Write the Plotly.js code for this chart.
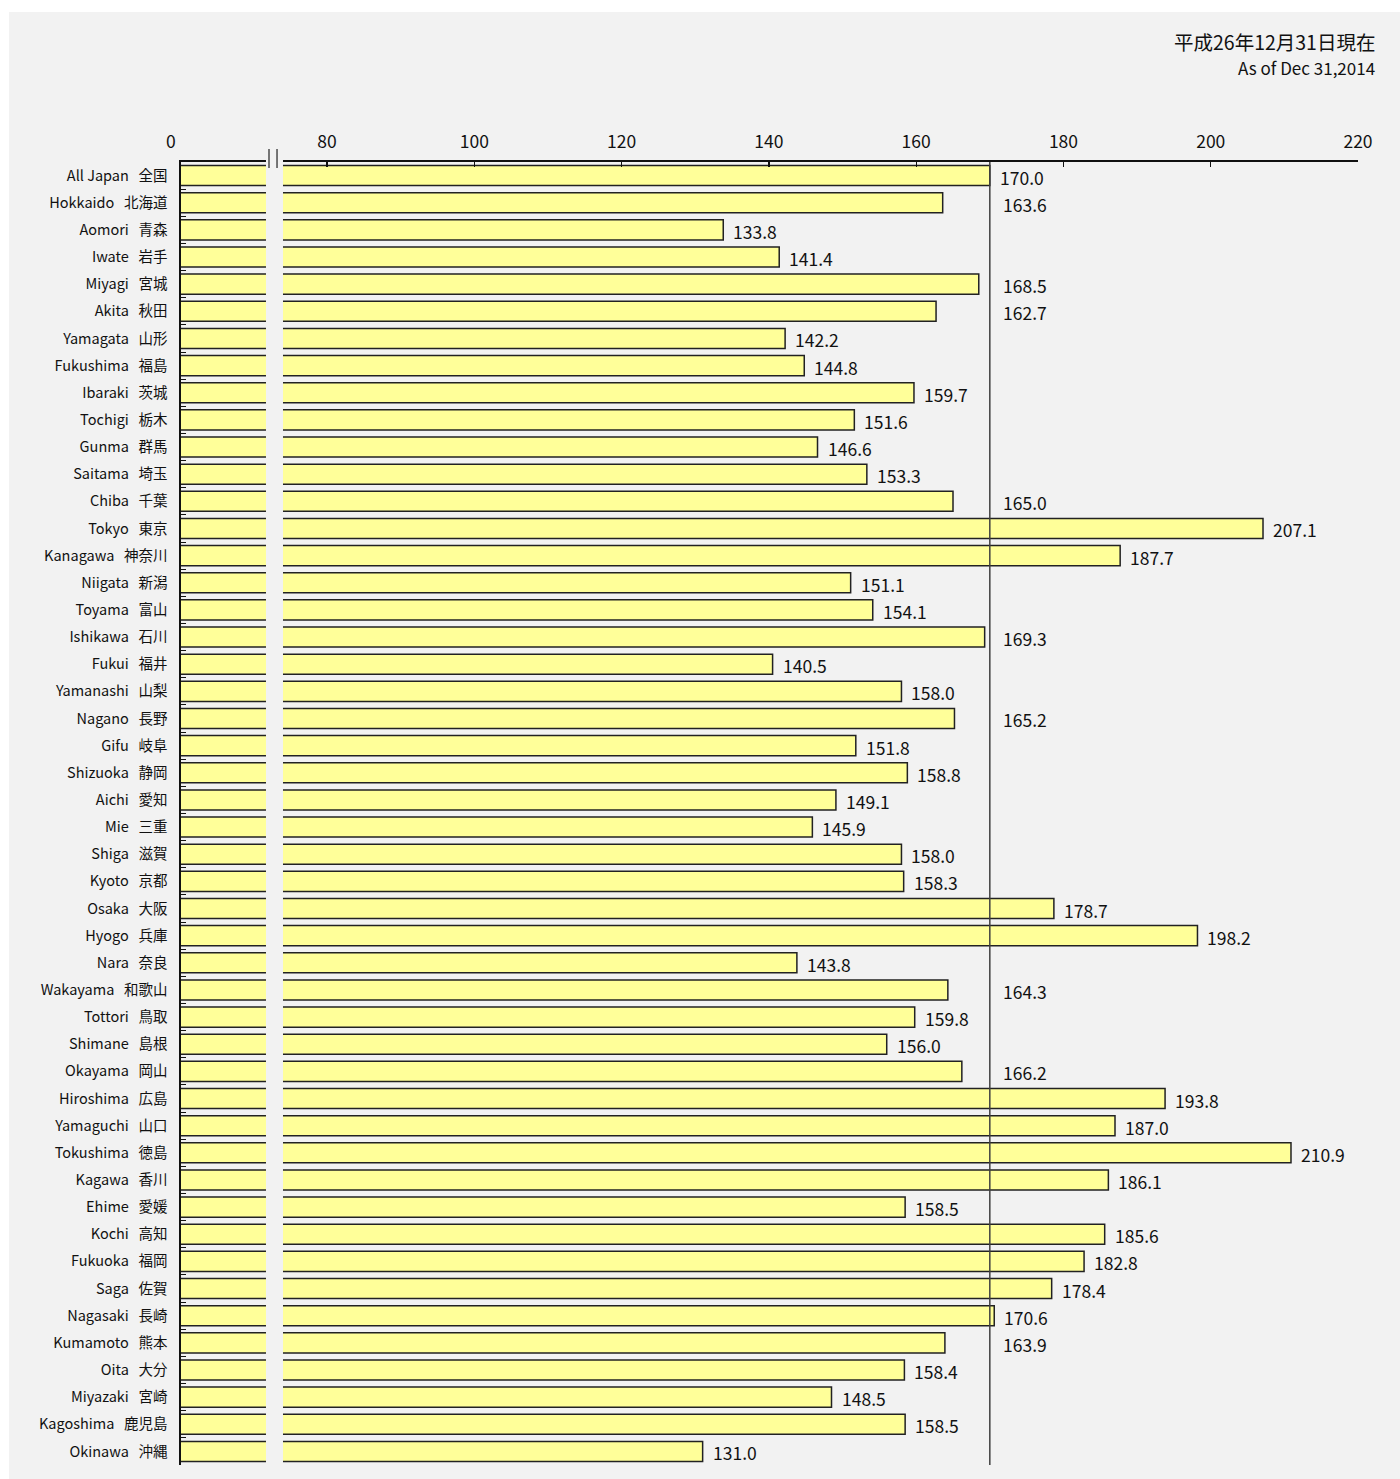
<!DOCTYPE html>
<html>
<head>
<meta charset="utf-8">
<script src="https://cdn.plot.ly/plotly-3.0.1.min.js"></script>
<style>
html,body{margin:0;padding:0;background:#ffffff;}
#chart{position:absolute;left:9px;top:12px;width:1391px;height:1467px;}
</style>
</head>
<body>
<div id="chart"></div>
<script>
const namesEn = ['All Japan','Hokkaido','Aomori','Iwate','Miyagi','Akita','Yamagata','Fukushima','Ibaraki','Tochigi','Gunma','Saitama','Chiba','Tokyo','Kanagawa','Niigata','Toyama','Ishikawa','Fukui','Yamanashi','Nagano','Gifu','Shizuoka','Aichi','Mie','Shiga','Kyoto','Osaka','Hyogo','Nara','Wakayama','Tottori','Shimane','Okayama','Hiroshima','Yamaguchi','Tokushima','Kagawa','Ehime','Kochi','Fukuoka','Saga','Nagasaki','Kumamoto','Oita','Miyazaki','Kagoshima','Okinawa'];
const namesJa = ['全国','北海道','青森','岩手','宮城','秋田','山形','福島','茨城','栃木','群馬','埼玉','千葉','東京','神奈川','新潟','富山','石川','福井','山梨','長野','岐阜','静岡','愛知','三重','滋賀','京都','大阪','兵庫','奈良','和歌山','鳥取','島根','岡山','広島','山口','徳島','香川','愛媛','高知','福岡','佐賀','長崎','熊本','大分','宮崎','鹿児島','沖縄'];
const values = [170.0,163.6,133.8,141.4,168.5,162.7,142.2,144.8,159.7,151.6,146.6,153.3,165.0,207.1,187.7,151.1,154.1,169.3,140.5,158.0,165.2,151.8,158.8,149.1,145.9,158.0,158.3,178.7,198.2,143.8,164.3,159.8,156.0,166.2,193.8,187.0,210.9,186.1,158.5,185.6,182.8,178.4,170.6,163.9,158.4,148.5,158.5,131.0];
const xTickVals = [80,100,120,140,160,180,200,220];
const xTickText = ['80','100','120','140','160','180','200','220'];
const axisZeroLabel = '0';
const dateJa = '平成26年12月31日現在';
const dateEn = 'As of Dec 31,2014';

const cats = namesEn.map((e,i)=> e + '\u00a0\u00a0\u00a0' + namesJa[i]);
const allJapan = values[0];
const xMin = 60.16, xMax = 220;
const FONT = '"Noto Sans CJK JP", "Noto Sans", sans-serif';

const trace = {
  type:'bar', orientation:'h',
  x: values, y: cats,
  width: 0.74,
  marker:{color:'#FFFF99', line:{color:'#222222', width:1.5}},
  hoverinfo:'none'
};

const annotations = [];
values.forEach((v,i)=>{
  const shifted = (v >= 160.5 && v < allJapan);
  annotations.push({
    x: shifted ? allJapan : v, y: cats[i], xref:'x', yref:'y',
    text: v.toFixed(1), showarrow:false, xanchor:'left', yanchor:'middle',
    xshift: shifted ? 11 : 8, yshift: -1.5,
    font:{family:FONT, size:17.5, color:'#111111'}
  });
});
annotations.push({x:-0.0088, y:1.0168, xref:'paper', yref:'paper', text:axisZeroLabel, showarrow:false,
  xanchor:'center', yanchor:'middle', font:{family:FONT, size:17.5, color:'#111111'}});
annotations.push({x:1.0161, y:1.0921, xref:'paper', yref:'paper', text:dateJa, showarrow:false,
  xanchor:'right', yanchor:'middle', font:{family:FONT, size:19.5, color:'#111111'}});
annotations.push({x:1.0161, y:1.0729, xref:'paper', yref:'paper', text:dateEn, showarrow:false,
  xanchor:'right', yanchor:'middle', font:{family:FONT, size:17, color:'#111111'}});

const shapes = [
  {type:'rect', xref:'x', yref:'paper', x0:71.70, x1:74.01, y0:-0.01, y1:1.003, fillcolor:'#F2F2F2', line:{width:0}, layer:'above'},
  {type:'line', xref:'x', yref:'paper', x0:72.11, x1:72.11, y0:0.9954, y1:1.0100, line:{color:'#222222', width:1.2}, layer:'above'},
  {type:'line', xref:'x', yref:'paper', x0:73.20, x1:73.20, y0:0.9954, y1:1.0100, line:{color:'#222222', width:1.2}, layer:'above'},
  {type:'line', xref:'x', yref:'paper', x0:allJapan, x1:allJapan, y0:0, y1:1, line:{color:'#404040', width:1.5}, layer:'above'}
];

const layout = {
  width:1391, height:1467,
  margin:{l:172, r:42, t:150, b:14},
  paper_bgcolor:'#F2F2F2', plot_bgcolor:'#F2F2F2',
  showlegend:false,
  font:{family:FONT, color:'#111111'},
  xaxis:{
    side:'top', range:[xMin, xMax], tickvals:xTickVals, ticktext:xTickText,
    ticks:'inside', ticklen:5, tickwidth:1.2, tickcolor:'#111111',
    showline:true, linecolor:'#111111', linewidth:2.5,
    showgrid:false, zeroline:false, fixedrange:true,
    ticklabelstandoff:5,
    tickfont:{family:FONT, size:17.5, color:'#111111'}
  },
  yaxis:{
    type:'category', autorange:false, range:[values.length-0.5, -0.5],
    ticks:'inside', ticklen:5, tickwidth:1, tickcolor:'#111111', tickson:'boundaries',
    showline:true, linecolor:'#111111', linewidth:2.5,
    showgrid:false, zeroline:false, fixedrange:true,
    ticklabelstandoff:8,
    tickfont:{family:FONT, size:14.5, color:'#111111'}
  },
  annotations: annotations,
  shapes: shapes
};

Plotly.newPlot('chart', [trace], layout, {displayModeBar:false, staticPlot:true});
</script>
</body>
</html>
